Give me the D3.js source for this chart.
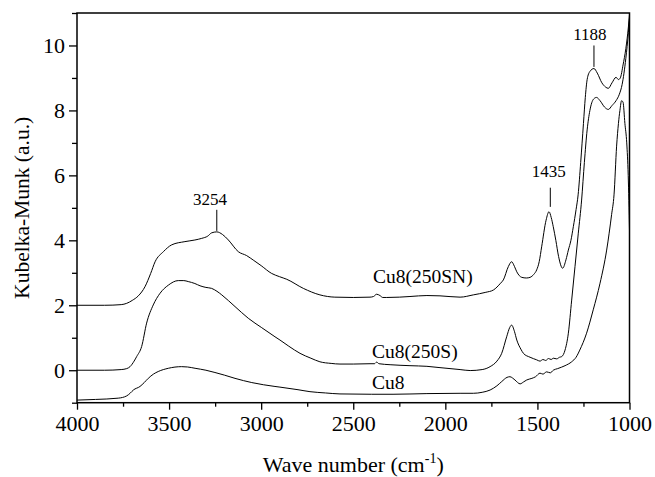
<!DOCTYPE html>
<html><head><meta charset="utf-8">
<script src="https://cdn.jsdelivr.net/npm/d3@7"></script>
<style>
html,body{margin:0;padding:0;background:#fff;}
svg{display:block;}
svg text{font-family:'Liberation Serif','Times New Roman',Times,serif !important;}
</style></head>
<body>
<svg id="chart" width="655" height="477"></svg>
<script>
// ---- data ----
const seriesNames = ["Cu8(250SN)", "Cu8(250S)", "Cu8"];

const wnSN = [4000,3850,3760,3730,3700,3667,3631,3600,3576,3531,3486,3414,3360,3323,3290,3269,3241,3210,3178,3124,3079,3040,3000,2943,2900,2861,2771,2681,2600,2500,2409,2390,2373,2355,2340,2318,2250,2192,2100,2029,1920,1848,1780,1739,1700,1685,1658,1640,1625,1612,1585,1560,1540,1520,1504,1490,1477,1453,1437,1425,1414,1400,1385,1363,1345,1332,1318,1305,1290,1279,1265,1250,1240,1230,1215,1193,1175,1150,1130,1115,1095,1073,1060,1050,1035,1020,1006,1000];
const valSN = [2.0,2.0,2.02,2.06,2.15,2.29,2.57,2.98,3.34,3.65,3.86,3.96,4.01,4.06,4.13,4.23,4.26,4.18,4.01,3.65,3.53,3.38,3.22,2.98,2.88,2.8,2.52,2.32,2.25,2.24,2.25,2.27,2.34,2.3,2.24,2.24,2.25,2.27,2.3,2.29,2.25,2.32,2.4,2.47,2.68,2.78,3.19,3.34,3.2,3.03,2.86,2.84,2.86,2.95,3.09,3.35,3.8,4.62,4.88,4.7,4.42,4.0,3.5,3.14,3.4,3.7,4.0,4.42,4.95,5.4,6.4,7.6,8.4,8.95,9.2,9.29,9.15,8.85,8.72,8.68,8.85,9.02,8.95,9.0,9.4,9.9,10.57,10.95];

const wnS = [4000,3850,3760,3730,3712,3690,3676,3649,3622,3586,3549,3504,3450,3420,3396,3360,3332,3300,3269,3240,3214,3142,3070,2997,2925,2898,2850,2789,2730,2681,2620,2572,2500,2409,2385,2373,2360,2300,2192,2100,2029,1920,1865,1800,1757,1720,1694,1667,1650,1640,1625,1612,1590,1576,1540,1504,1486,1470,1455,1440,1425,1414,1395,1380,1368,1350,1332,1314,1296,1278,1260,1245,1230,1215,1195,1179,1160,1135,1115,1095,1073,1055,1040,1020,1006,1000];
const valS = [0.0,0.0,0.02,0.05,0.11,0.28,0.42,0.73,1.45,2.01,2.37,2.62,2.76,2.76,2.73,2.67,2.6,2.55,2.52,2.43,2.32,1.96,1.6,1.31,1.03,0.93,0.74,0.52,0.37,0.26,0.21,0.19,0.19,0.2,0.2,0.25,0.2,0.17,0.14,0.12,0.08,0.02,-0.01,0.02,0.11,0.28,0.52,1.03,1.32,1.39,1.2,0.93,0.65,0.52,0.4,0.32,0.28,0.33,0.3,0.36,0.33,0.37,0.35,0.4,0.42,0.62,1.14,2.16,3.19,4.22,5.24,6.4,7.4,8.0,8.35,8.4,8.3,8.1,8.03,8.15,8.3,8.5,8.8,9.6,10.4,10.85];

const wnCu8 = [4000,3900,3776,3730,3710,3694,3658,3635,3613,3585,3559,3504,3432,3400,3359,3300,3251,3200,3142,3051,2925,2898,2800,2735,2650,2572,2400,2284,2100,1920,1848,1800,1757,1720,1694,1665,1649,1635,1622,1594,1575,1558,1530,1510,1486,1470,1450,1430,1414,1390,1350,1314,1290,1270,1233,1197,1160,1124,1097,1084,1070,1060,1052,1043,1035,1025,1015,1007,1000];
const valCu8 = [-0.92,-0.9,-0.86,-0.79,-0.7,-0.61,-0.5,-0.38,-0.25,-0.12,-0.04,0.06,0.11,0.1,0.06,0.0,-0.07,-0.15,-0.25,-0.38,-0.5,-0.52,-0.6,-0.66,-0.7,-0.73,-0.74,-0.74,-0.72,-0.71,-0.71,-0.68,-0.61,-0.48,-0.35,-0.22,-0.2,-0.24,-0.3,-0.42,-0.36,-0.3,-0.25,-0.2,-0.09,-0.12,-0.05,-0.08,0.0,0.05,0.14,0.26,0.4,0.62,1.14,1.86,2.68,3.7,4.8,5.4,6.9,7.6,8.0,8.3,8.25,7.6,7.0,6.0,4.3];

// series label anchors (wavenumber, value)
const labelWn = [2393, 2398, 2398];
const labelVal = [2.69, 0.38, -0.57];

// peak annotations
const peakText = ["3254", "1435", "1188"];
const peakLabelWn = [3278, 1438, 1215];
const peakLabelVal = [5.09, 5.96, 10.17];
const peakLineWn = [3241, 1430, 1193];
const peakLineTop = [4.94, 5.62, 10.0];
const peakLineBottom = [4.29, 5.03, 9.34];

const xTicks = [4000, 3500, 3000, 2500, 2000, 1500, 1000];
const xMinor = [3750, 3250, 2750, 2250, 1750, 1250];
const yTicks = [0, 2, 4, 6, 8, 10];
const yMinor = [-1, 1, 3, 5, 7, 9, 11];

// ---- layout ----
const FONT = "'Liberation Serif','Times New Roman',Times,serif";
const svg = d3.select("#chart");
const L = 77, R = 629.5, T = 13, B = 402.7;
const x = d3.scaleLinear().domain([4000, 1000]).range([L, R]);
const y = d3.scaleLinear().domain([-1, 11]).range([B, T]);

// curves
const series = [
  {wn: wnSN, val: valSN},
  {wn: wnS, val: valS},
  {wn: wnCu8, val: valCu8}
];
const line = d3.line().x(d => x(d[0])).y(d => y(d[1])).curve(d3.curveMonotoneX);
svg.append("clipPath").attr("id", "clip").append("rect")
  .attr("x", L).attr("y", T).attr("width", R - L).attr("height", B - T);
series.forEach(s => {
  svg.append("path")
    .datum(s.wn.map((w, i) => [w, s.val[i]]))
    .attr("d", line)
    .attr("fill", "none")
    .attr("stroke", "#000")
    .attr("stroke-width", 1)
    .attr("clip-path", "url(#clip)");
});

// axes
const xAxis = svg.append("g").attr("transform", `translate(0,${B})`)
  .call(d3.axisBottom(x).tickValues(xTicks).tickSize(7).tickPadding(6).tickFormat(d3.format("d")));
const xAxisMinor = svg.append("g").attr("transform", `translate(0,${B})`)
  .call(d3.axisBottom(x).tickValues(xMinor).tickSize(4).tickFormat(""));
const yAxis = svg.append("g").attr("transform", `translate(${L},0)`)
  .call(d3.axisLeft(y).tickValues(yTicks).tickSize(8).tickPadding(4).tickFormat(d3.format("d")));
const yAxisMinor = svg.append("g").attr("transform", `translate(${L},0)`)
  .call(d3.axisLeft(y).tickValues(yMinor).tickSize(5).tickFormat(""));
[xAxis, xAxisMinor, yAxis, yAxisMinor].forEach(g => {
  g.attr("font-family", FONT);
  g.select(".domain").remove();
  g.selectAll("line").attr("stroke", "#000").attr("stroke-width", 1.3);
  g.selectAll("text").style("font-family", FONT)
    .attr("font-size", 22).attr("fill", "#000");
});
yAxis.selectAll("text").attr("dy", "0.33em");

// frame
svg.append("rect").attr("x", L).attr("y", T).attr("width", R - L).attr("height", B - T)
  .attr("fill", "none").attr("stroke", "#000").attr("stroke-width", 1.5);

// axis titles
const xt = svg.append("text").attr("x", (L + R) / 2).attr("y", 472)
  .attr("text-anchor", "middle").attr("font-size", 22).style("font-family", FONT);
xt.append("tspan").text("Wave number (cm");
xt.append("tspan").attr("font-size", 14).attr("dy", -9).text("-1");
xt.append("tspan").attr("dy", 9).text(")");

svg.append("text").attr("transform", `translate(29,${(T + B) / 2}) rotate(-90)`)
  .attr("text-anchor", "middle").attr("font-size", 21.5).style("font-family", FONT)
  .text("Kubelka-Munk (a.u.)");

// series labels
seriesNames.forEach((n, i) => {
  svg.append("text").attr("x", x(labelWn[i])).attr("y", y(labelVal[i]))
    .attr("font-size", 19.5).style("font-family", FONT).text(n);
});

// peak annotations
peakText.forEach((t, i) => {
  svg.append("text").attr("x", x(peakLabelWn[i])).attr("y", y(peakLabelVal[i]))
    .attr("text-anchor", "middle").attr("font-size", 17).style("font-family", FONT).text(t);
  svg.append("line")
    .attr("x1", x(peakLineWn[i])).attr("x2", x(peakLineWn[i]))
    .attr("y1", y(peakLineTop[i])).attr("y2", y(peakLineBottom[i]))
    .attr("stroke", "#000").attr("stroke-width", 1);
});
</script>
</body></html>
